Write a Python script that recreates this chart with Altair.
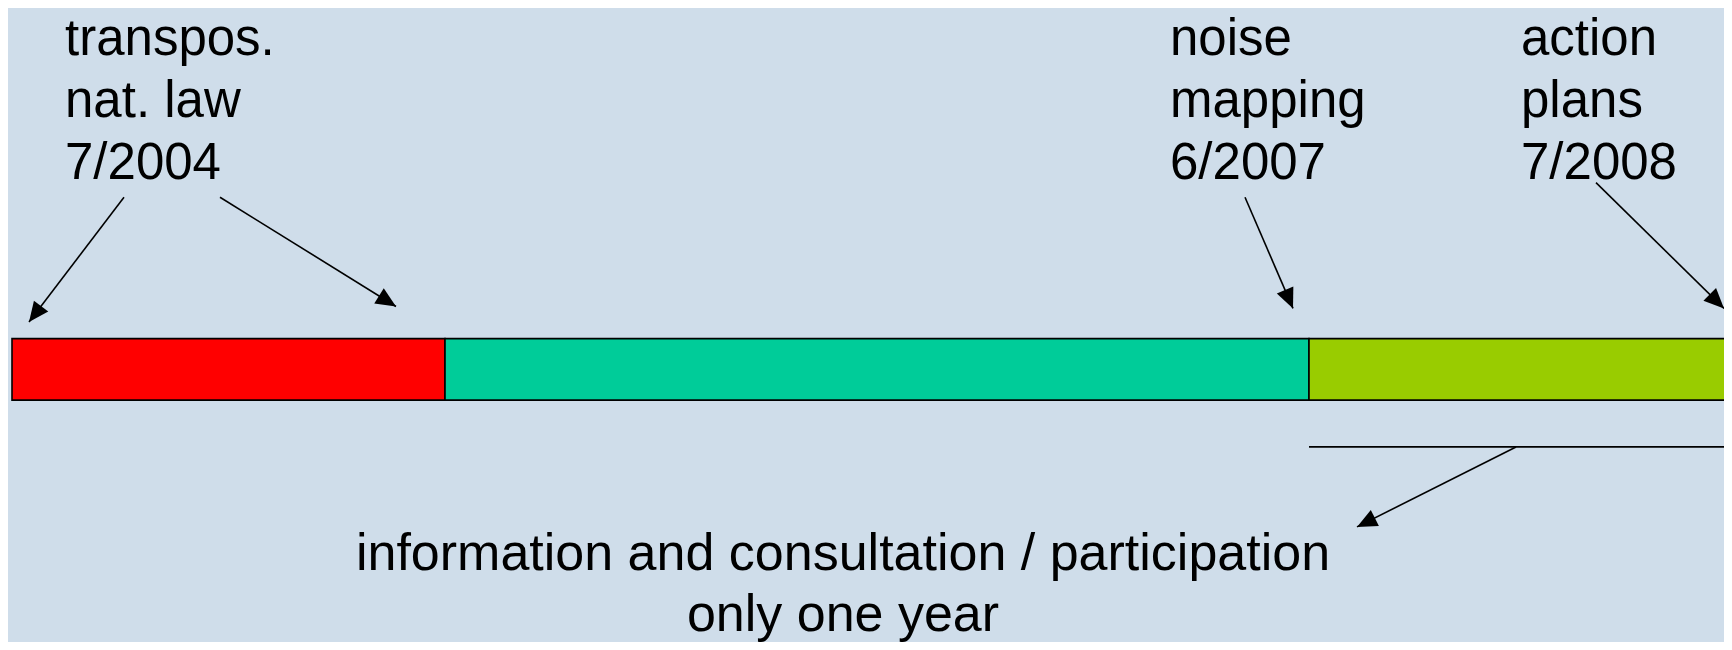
import altair as alt
import pandas as pd
import numpy as np

BG = "#CFDDEA"
FONT = "Liberation Sans"

# Timeline segments (diagram units = reference pixels)
seg_names = ["transposition", "noise mapping", "action plans"]
seg_start = [12, 445, 1309]
seg_end = [445, 1309, 1745]
seg_colors = ["#FF0000", "#00CC99", "#99CC00"]
bar_top = [339, 339, 339]
bar_bottom = [402, 402, 402]

# Milestone labels (one row per text line)
label_text = ["transpos.", "nat. law", "7/2004",
              "noise", "mapping", "6/2007",
              "action", "plans", "7/2008"]
label_x = [65, 65, 65, 1170, 1170, 1170, 1521, 1521, 1521]
label_y = [48, 112, 175, 48, 112, 175, 48, 112, 175]

# Bottom note
note_text = ["information and consultation / participation", "only one year"]
note_x = [843, 843]
note_y = [576, 639]

# Arrows: start -> tip
arrow_x1 = [124, 220, 1245, 1596, 1516]
arrow_y1 = [194, 194, 194, 179, 450]
arrow_x2 = [29, 396, 1293, 1724, 1357]
arrow_y2 = [322, 306, 308, 308, 532]

# Bracket line under the action-plan phase
bracket_x1 = [1309]
bracket_x2 = [1745]
bracket_y = [450]

seg_df = pd.DataFrame({"name": seg_names, "x": seg_start, "x2": seg_end,
                       "y": bar_top, "y2": bar_bottom, "color": seg_colors})
lab_df = pd.DataFrame({"text": label_text, "x": label_x, "y": label_y})
note_df = pd.DataFrame({"text": note_text, "x": note_x, "y": note_y})
arr_df = pd.DataFrame({"x": arrow_x1, "y": arrow_y1, "x2": arrow_x2, "y2": arrow_y2})
dx = arr_df["x2"] - arr_df["x"]
dy = (arr_df["y2"] - arr_df["y"]) * 634 / 650
arr_df["angle"] = np.mod(np.degrees(np.arctan2(dx, -dy)), 360)
br_df = pd.DataFrame({"x": bracket_x1, "x2": bracket_x2, "y": bracket_y})

XS = alt.Scale(domain=[8, 1724], nice=False, zero=False)
YS = alt.Scale(domain=[0, 650], nice=False, zero=False, reverse=True)

bars = alt.Chart(seg_df).mark_rect(stroke="black", strokeWidth=1.6, clip=True).encode(
    x=alt.X("x:Q", scale=XS, axis=None), x2="x2:Q",
    y=alt.Y("y:Q", scale=YS, axis=None), y2="y2:Q",
    fill=alt.Fill("color:N", scale=None),
)

labels = alt.Chart(lab_df).mark_text(
    font=FONT, fontSize=51, align="left", baseline="alphabetic", color="black"
).encode(x=alt.X("x:Q", scale=XS, axis=None), y=alt.Y("y:Q", scale=YS, axis=None), text="text:N")

notes = alt.Chart(note_df).mark_text(
    font=FONT, fontSize=52, align="center", baseline="alphabetic", color="black"
).encode(x=alt.X("x:Q", scale=XS, axis=None), y=alt.Y("y:Q", scale=YS, axis=None), text="text:N")

lines = alt.Chart(arr_df).mark_rule(color="black", strokeWidth=1.6).encode(
    x=alt.X("x:Q", scale=XS, axis=None), x2="x2:Q",
    y=alt.Y("y:Q", scale=YS, axis=None), y2="y2:Q",
)

heads = alt.Chart(arr_df).mark_point(
    shape="M0,0 L-0.45,1 L0.45,1 Z", size=1600, filled=True, color="black",
    opacity=1, strokeWidth=0
).encode(
    x=alt.X("x2:Q", scale=XS, axis=None),
    y=alt.Y("y2:Q", scale=YS, axis=None),
    angle=alt.Angle("angle:Q", scale=None),
)

bracket = alt.Chart(br_df).mark_rule(color="black", strokeWidth=1.8, clip=True).encode(
    x=alt.X("x:Q", scale=XS, axis=None), x2="x2:Q",
    y=alt.Y("y:Q", scale=YS, axis=None),
)

chart = alt.layer(bars, lines, heads, bracket, labels, notes).properties(
    width=1716, height=634, background=BG, padding=0,
    autosize=alt.AutoSizeParams(type="none"),
).configure_view(stroke=None)

chart.save("out.html", embed_options={"renderer": "svg", "actions": False})
